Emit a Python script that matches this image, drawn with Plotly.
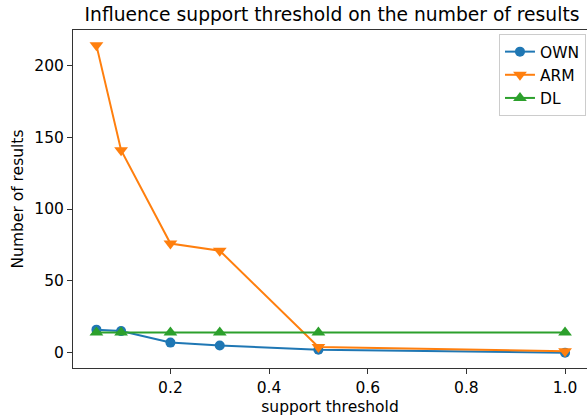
import plotly.graph_objects as go

support = [0.05, 0.1, 0.2, 0.3, 0.5, 1.0]
own = [16, 15, 7, 5, 2, 0]
arm = [214, 141, 76, 71, 4, 1]
dl = [14, 14, 14, 14, 14, 14]
series_names = ["OWN", "ARM", "DL"]
colors = ["#1f77b4", "#ff7f0e", "#2ca02c"]
symbols = ["circle", "triangle-down", "triangle-up"]
marker_sizes = [10, 12, 12]

fig = go.Figure()
for name, vals, c, s, ms in zip(series_names, [own, arm, dl], colors, symbols, marker_sizes):
    fig.add_trace(go.Scatter(x=support, y=vals, mode="lines+markers", name=name,
                             line=dict(color=c, width=2),
                             marker=dict(symbol=s, size=ms, color=c)))

W, H = 587, 419
ML, MT, MB = 72.5, 30, 51.3
plot_w = W - ML
px_per_unit = 493.75
x0 = 0.0025
x1 = x0 + plot_w / px_per_unit

axis_common = dict(showline=True, linecolor="#333333", linewidth=1,
                   ticks="outside", ticklen=5, tickcolor="#333333", showgrid=False,
                   zeroline=False, automargin=False, tickfont=dict(size=15.5, color="black"))
fig.update_layout(
    width=W, height=H,
    margin=dict(l=ML, r=0, t=MT, b=MB, pad=0),
    paper_bgcolor="white", plot_bgcolor="white",
    font=dict(family="DejaVu Sans", color="black"),
    title=dict(text="Influence support threshold on the number of results",
               x=332 / W, xanchor="center", y=1 - 14 / H, yanchor="middle",
               font=dict(size=18.7)),
    xaxis=dict(range=[x0, x1], tickvals=[0.2, 0.4, 0.6, 0.8, 1.0], mirror=True,
               ticktext=["0.2", "0.4", "0.6", "0.8", "1.0"],
               title=dict(text="support threshold", font=dict(size=15.5), standoff=5), **axis_common),
    yaxis=dict(range=[-10.7, 224.7], tickvals=[0, 50, 100, 150, 200], mirror=False,
               title=dict(text="Number of results", font=dict(size=15.5), standoff=6), **axis_common),
    legend=dict(x=0.998, y=0.988, xanchor="right", yanchor="top",
                bordercolor="#cccccc", borderwidth=1, bgcolor="rgba(255,255,255,0.8)",
                font=dict(size=15.5), tracegroupgap=0),
    showlegend=True,
)
fig.write_html("out.html", config={"displayModeBar": False},
               post_script="document.body.style.margin='0px';")
